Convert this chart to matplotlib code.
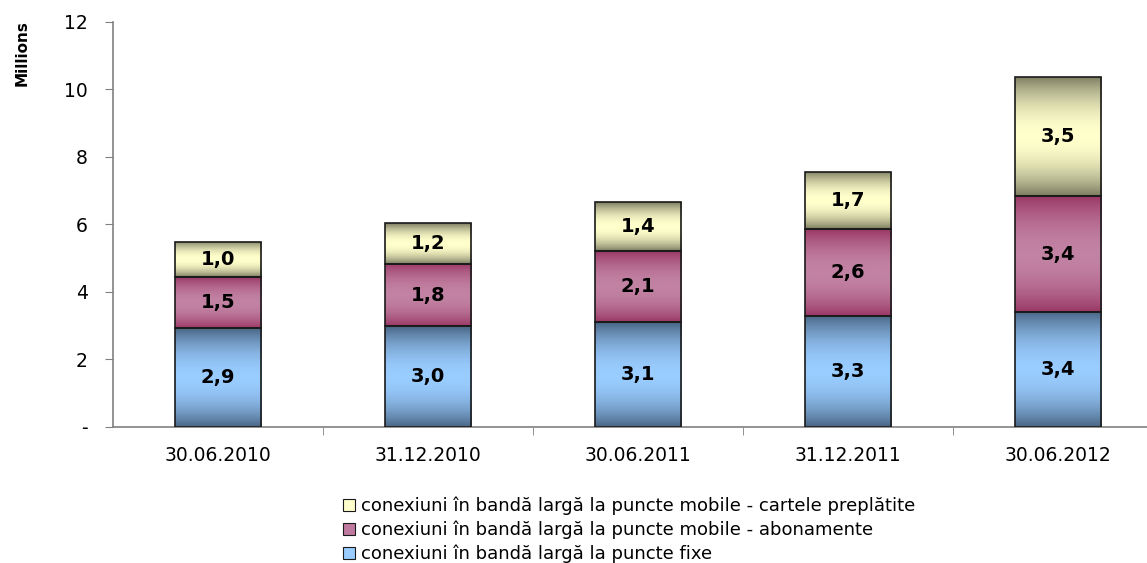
import numpy as np
import matplotlib.pyplot as plt
from matplotlib.colors import LinearSegmentedColormap
from matplotlib.patches import Patch

dates = ['30.06.2010', '31.12.2010', '30.06.2011', '31.12.2011', '30.06.2012']
fixe = [2.93, 2.99, 3.11, 3.29, 3.41]
abonamente = [1.51, 1.84, 2.10, 2.57, 3.43]
cartele = [1.04, 1.21, 1.45, 1.70, 3.53]

names = ['conexiuni în bandă largă la puncte fixe',
         'conexiuni în bandă largă la puncte mobile - abonamente',
         'conexiuni în bandă largă la puncte mobile - cartele preplătite']
# (dark edge of gradient, light middle)
shades = [('#46617f', '#99ccff'), ('#983463', '#c282a3'), ('#76765c', '#ffffcc')]
legend_fill = ['#99ccff', '#c07aa0', '#ffffcc']

fig = plt.figure(figsize=(11.47, 5.63), dpi=100)
ax = fig.add_axes([0.0985, 0.2416, 0.9154, 0.7194])

x = np.arange(len(dates))
width = 0.41
grad = np.cos(np.linspace(-np.pi / 2, np.pi / 2, 256)) ** 0.8
grad = grad.reshape(-1, 1)

bottom = np.zeros(len(dates))
for vals, (dark, light) in zip([fixe, abonamente, cartele], shades):
    bars = ax.bar(x, vals, width, bottom=bottom, facecolor='none',
                  edgecolor='#1a1a1a', linewidth=1.2, zorder=3)
    cmap = LinearSegmentedColormap.from_list('g', [dark, light])
    for b, v in zip(bars, vals):
        x0, y0 = b.get_x(), b.get_y()
        im = ax.imshow(grad, cmap=cmap, vmin=0, vmax=1, aspect='auto',
                       extent=[x0, x0 + b.get_width(), y0, y0 + b.get_height()],
                       zorder=2, interpolation='bilinear')
        im.set_clip_path(b)
        ax.text(b.get_x() + b.get_width() / 2, y0 + v / 2,
                f'{v:.1f}'.replace('.', ','), ha='center', va='center',
                fontsize=14, fontweight='bold', zorder=4)
    bottom += np.array(vals)

ax.set_xlim(-0.5, len(dates) - 0.5)
ax.set_ylim(0, 12)
ax.set_yticks(range(0, 13, 2))
ax.set_yticklabels(['-'] + [str(v) for v in range(2, 13, 2)])
ax.set_xticks(x)
ax.set_xticklabels(dates)
ax.set_xticks(np.arange(0.5, len(dates) - 0.5), minor=True)
ax.tick_params(axis='x', which='major', length=0, pad=14, labelsize=13.5)
ax.tick_params(axis='x', which='minor', length=6, color='#808080', direction='out')
ax.tick_params(axis='y', length=6, color='#808080', pad=12, labelsize=13.5)
for s in ['top', 'right']:
    ax.spines[s].set_visible(False)
for s in ['left', 'bottom']:
    ax.spines[s].set_color('#808080')
    ax.spines[s].set_linewidth(1.2)

fig.text(0.019, 0.905, 'Millions', rotation=90, ha='center', va='center',
         fontsize=11, fontweight='bold')

handles = [Patch(facecolor=c, edgecolor='#1a1a1a', linewidth=0.8) for c in legend_fill]
fig.legend(handles[::-1], names[::-1], loc='upper left',
           bbox_to_anchor=(0.299, 0.118), frameon=False, fontsize=13,
           handlelength=0.65, handleheight=0.65, handletextpad=0.35,
           labelspacing=0.3, borderpad=0, borderaxespad=0)

fig.savefig('out.png', dpi=100)
